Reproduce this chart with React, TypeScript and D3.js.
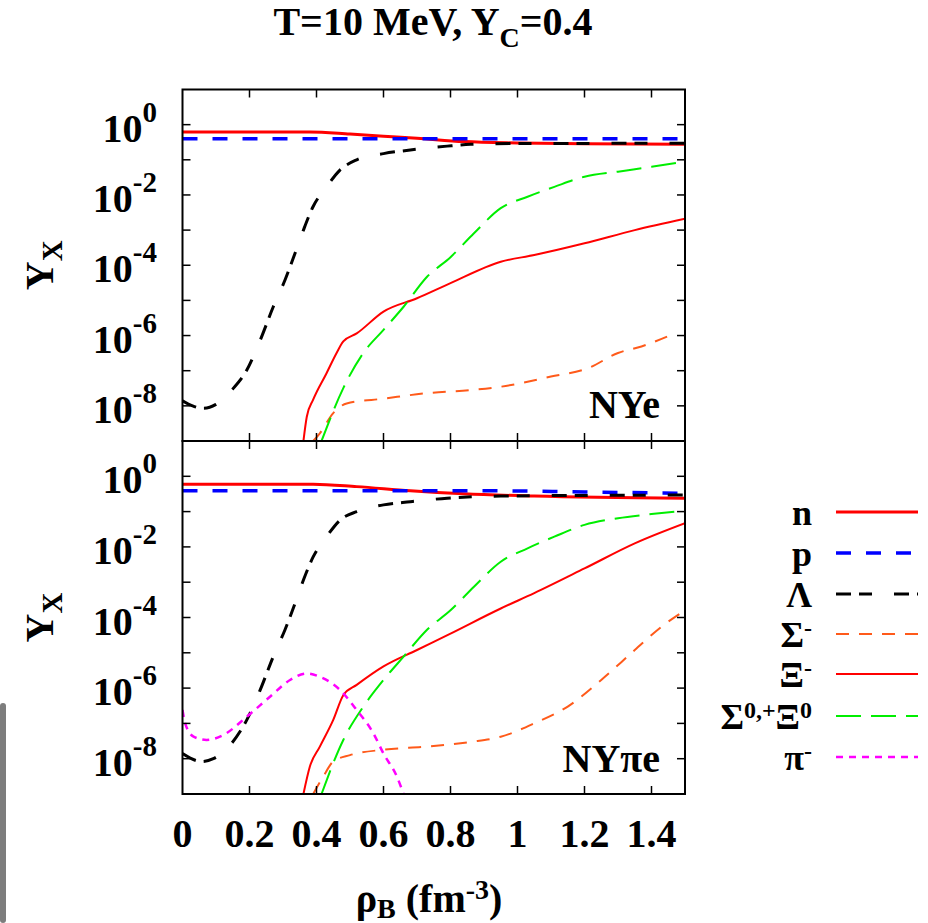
import React from 'react';
import * as d3 from 'd3';

// ---------- data ----------
const xTicks = [0.2, 0.4, 0.6, 0.8, 1.0, 1.2, 1.4];
const xTickLabelValues = [0, 0.2, 0.4, 0.6, 0.8, 1.0, 1.2, 1.4];
const xTickLabels = ['0', '0.2', '0.4', '0.6', '0.8', '1', '1.2', '1.4'];
const yLabelExps = [0, -2, -4, -6, -8];
const yTickExps = [0, -1, -2, -3, -4, -5, -6, -7, -8];

// Top panel (NYe): [rho_B, Y_X]
const nTop: [number, number][] = [[0, 0.62], [0.38, 0.62], [0.5, 0.54], [0.6, 0.47], [0.7, 0.41], [0.84, 0.33], [1.0, 0.3], [1.2, 0.285], [1.5, 0.275]];
const pTop: [number, number][] = [[0, 0.4], [0.5, 0.4], [1.0, 0.4], [1.5, 0.4]];
const lamTop: [number, number][] = [[0, 1.4e-8], [0.03, 1.0e-8], [0.063, 8.5e-9], [0.1, 1.1e-8], [0.147, 2.8e-8], [0.192, 1.05e-7], [0.232, 7.4e-7], [0.271, 6.6e-6], [0.306, 3.8e-5], [0.336, 2.2e-4], [0.361, 1.0e-3], [0.39, 4.7e-3], [0.43, 0.017], [0.47, 0.051], [0.52, 0.1], [0.6, 0.15], [0.68, 0.19], [0.79, 0.245], [0.86, 0.275], [1.0, 0.29], [1.5, 0.295]];
const sigmTop: [number, number][] = [[0.39, 1e-9], [0.41, 1.66e-9], [0.45, 6.2e-9], [0.49, 1.17e-8], [0.6, 1.6e-8], [0.73, 2.3e-8], [0.86, 2.8e-8], [0.95, 3.5e-8], [1.1, 6.8e-8], [1.21, 1.17e-7], [1.3, 3.2e-7], [1.37, 4.9e-7], [1.46, 1.05e-6]];
const ximTop: [number, number][] = [[0.361, 1e-9], [0.371, 4.9e-9], [0.39, 1.5e-8], [0.43, 8.5e-8], [0.46, 3.2e-7], [0.48, 6.8e-7], [0.52, 1.15e-6], [0.6, 4.8e-6], [0.7, 1.15e-5], [0.8, 3.1e-5], [0.95, 1.26e-4], [1.05, 1.95e-4], [1.2, 4.2e-4], [1.35, 1.0e-3], [1.5, 2.1e-3]];
const sig0Top: [number, number][] = [[0.415, 1e-9], [0.48, 3.2e-8], [0.54, 3.2e-7], [0.6, 1.45e-6], [0.66, 6.6e-6], [0.73, 4.7e-5], [0.8, 1.7e-4], [0.87, 8.1e-4], [0.95, 4.2e-3], [1.03, 8.9e-3], [1.11, 0.017], [1.2, 0.033], [1.3, 0.046], [1.4, 0.063], [1.5, 0.089]];

// Bottom panel (NYpie): [rho_B, Y_X]
const nBot: [number, number][] = [[0, 0.6], [0.39, 0.6], [0.52, 0.51], [0.68, 0.39], [0.84, 0.32], [1.05, 0.275], [1.5, 0.24]];
const pBot: [number, number][] = [[0, 0.39], [0.5, 0.39], [0.9, 0.39], [1.2, 0.36], [1.5, 0.33]];
const lamBot: [number, number][] = [[0, 1.4e-8], [0.058, 8.3e-9], [0.092, 1.0e-8], [0.147, 2.75e-8], [0.192, 1.26e-7], [0.232, 8.9e-7], [0.271, 7.8e-6], [0.306, 4.5e-5], [0.336, 2.5e-4], [0.361, 1.15e-3], [0.39, 5.2e-3], [0.43, 0.0195], [0.47, 0.057], [0.52, 0.1], [0.6, 0.155], [0.68, 0.19], [0.79, 0.24], [0.95, 0.275], [1.5, 0.295]];
const sigmBot: [number, number][] = [[0.39, 1e-9], [0.42, 3.1e-9], [0.45, 8.3e-9], [0.5, 1.26e-8], [0.6, 1.8e-8], [0.73, 2.2e-8], [0.86, 3.0e-8], [0.95, 4.2e-8], [1.05, 1.0e-7], [1.15, 3.0e-7], [1.25, 1.7e-6], [1.35, 1.2e-5], [1.43, 5.5e-5], [1.5, 1.6e-4]];
const ximBot: [number, number][] = [[0.361, 1e-9], [0.38, 5.9e-9], [0.41, 2.2e-8], [0.45, 1.26e-7], [0.48, 6.3e-7], [0.52, 1.23e-6], [0.6, 4.1e-6], [0.7, 1.2e-5], [0.8, 3.5e-5], [0.95, 1.8e-4], [1.05, 4.9e-4], [1.2, 2.45e-3], [1.35, 0.0126], [1.5, 0.047]];
const sig0Bot: [number, number][] = [[0.415, 1e-9], [0.48, 3.4e-8], [0.54, 3.0e-7], [0.6, 1.7e-6], [0.66, 7.8e-6], [0.73, 4.5e-5], [0.8, 1.6e-4], [0.87, 7.4e-4], [0.95, 3.8e-3], [1.03, 9.1e-3], [1.11, 0.0195], [1.2, 0.042], [1.3, 0.065], [1.4, 0.085], [1.5, 0.107]];
const piBot: [number, number][] = [[0, 2.4e-7], [0.008, 1.0e-7], [0.033, 4.2e-8], [0.072, 3.4e-8], [0.122, 4.7e-8], [0.192, 1.55e-7], [0.262, 5.8e-7], [0.321, 1.7e-6], [0.371, 2.6e-6], [0.41, 2.1e-6], [0.47, 8.9e-7], [0.52, 2.4e-7], [0.57, 5.2e-8], [0.6, 1.4e-8], [0.64, 3.1e-9], [0.66, 1e-9]];

const seriesKeys = ['n', 'p', 'lam', 'sigm', 'xim', 'sig0', 'pi'];

// ---------- styles ----------
const styles: Record<string, { color: string; width: number; dash: string | null }> = {
  n: { color: '#ff0000', width: 3, dash: null },
  p: { color: '#0000ff', width: 3.5, dash: '15,15' },
  lam: { color: '#000000', width: 3, dash: '15,8,13,22' },
  sigm: { color: '#ff5a1a', width: 2, dash: '13,10' },
  xim: { color: '#ff0000', width: 2, dash: null },
  sig0: { color: '#00ee00', width: 2, dash: '25,10' },
  pi: { color: '#ff00ff', width: 2.5, dash: '7,6' },
};

const FONT = "'Liberation Serif', 'Times New Roman', serif";

const X0 = 182.5, X1 = 685;
const panels = [
  { id: 'top', top: 89.5, bottom: 441, label: 'NYe', series: { n: nTop, p: pTop, lam: lamTop, sigm: sigmTop, xim: ximTop, sig0: sig0Top } as Record<string, [number, number][]> },
  { id: 'bot', top: 441, bottom: 794, label: 'NY\u03c0e', series: { n: nBot, p: pBot, lam: lamBot, sigm: sigmBot, xim: ximBot, sig0: sig0Bot, pi: piBot } as Record<string, [number, number][]> },
];

const legendItems = [
  { key: 'n', y: 512 },
  { key: 'p', y: 553 },
  { key: 'lam', y: 594 },
  { key: 'sigm', y: 634 },
  { key: 'xim', y: 674 },
  { key: 'sig0', y: 716 },
  { key: 'pi', y: 757 },
];

function LegendLabel({ k, y }: { k: string; y: number }) {
  const common = { x: 812, y: y + 13, textAnchor: 'end' as const, fontSize: 36, fontWeight: 'bold', fontFamily: FONT, fill: '#000' };
  const sup = (s: string) => <tspan dy={-11} fontSize={24}>{s}</tspan>;
  switch (k) {
    case 'n': return <text {...common}>n</text>;
    case 'p': return <text {...common}>p</text>;
    case 'lam': return <text {...common}>Λ</text>;
    case 'sigm': return <text {...common}>Σ{sup('-')}</text>;
    case 'xim': return <text {...common}>Ξ{sup('-')}</text>;
    case 'sig0': return <text {...common}>Σ{sup('0,+')}<tspan dy={11} fontSize={36}>Ξ</tspan><tspan dy={-11} fontSize={24}>0</tspan></text>;
    case 'pi': return <text {...common}>π{sup('-')}</text>;
  }
  return null;
}

export default function App() {
  const x = d3.scaleLinear().domain([0, 1.5]).range([X0, X1]);

  return (
    <svg width={928} height={923} viewBox="0 0 928 923" style={{ position: 'absolute', left: 0, top: 0, background: '#fff' }}>
      <rect x={0} y={0} width={928} height={923} fill="#fff" />
      <defs>
        {panels.map(p => (
          <clipPath id={`clip-${p.id}`} key={p.id}>
            <rect x={X0} y={p.top} width={X1 - X0} height={p.bottom - p.top} />
          </clipPath>
        ))}
      </defs>

      {/* title */}
      <text x={433} y={35} textAnchor="middle" fontSize={40} fontWeight="bold" fontFamily={FONT}>
        T=10 MeV, Y<tspan dy={12} fontSize={28}>C</tspan><tspan dy={-12} fontSize={40}>=0.4</tspan>
      </text>

      {panels.map(p => {
        const y = d3.scaleLog().domain([1e-9, 10]).range([p.bottom, p.top]);
        const line = d3.line<[number, number]>().x(d => x(d[0])).y(d => y(d[1])).curve(d3.curveMonotoneX);
        const midY = (p.top + p.bottom) / 2;
        return (
          <g key={p.id}>
            <g clipPath={`url(#clip-${p.id})`}>
              {seriesKeys.filter(k => p.series[k]).map(k => (
                <path key={k} d={line(p.series[k]) || ''} fill="none" stroke={styles[k].color}
                  strokeWidth={styles[k].width} strokeDasharray={styles[k].dash || undefined} strokeLinejoin="round" />
              ))}
            </g>
            {/* y ticks */}
            {yTickExps.map(e => {
              const ty = y(Math.pow(10, e));
              return (
                <g key={e}>
                  <line x1={X0} x2={X0 + 8} y1={ty} y2={ty} stroke="#000" strokeWidth={1.5} />
                  <line x1={X1} x2={X1 - 8} y1={ty} y2={ty} stroke="#000" strokeWidth={1.5} />
                </g>
              );
            })}
            {/* x ticks */}
            {xTicks.map(v => (
              <g key={v}>
                <line x1={x(v)} x2={x(v)} y1={p.bottom} y2={p.bottom - 8} stroke="#000" strokeWidth={1.5} />
                <line x1={x(v)} x2={x(v)} y1={p.top} y2={p.top + 8} stroke="#000" strokeWidth={1.5} />
              </g>
            ))}
            {/* y labels */}
            {yLabelExps.map(e => {
              const ty = y(Math.pow(10, e));
              return (
                <text key={e} x={157} y={ty + 17} textAnchor="end" fontSize={40} fontWeight="bold" fontFamily={FONT}>
                  10<tspan dy={-20} fontSize={29}>{String(e)}</tspan>
                </text>
              );
            })}
            <rect x={X0} y={p.top} width={X1 - X0} height={p.bottom - p.top} fill="none" stroke="#000" strokeWidth={2} />
            <text transform={`translate(53,${midY}) rotate(-90)`} textAnchor="middle" fontSize={40} fontWeight="bold" fontFamily={FONT}>
              Y<tspan dy={9} fontSize={29}>X</tspan>
            </text>
            <text x={660} y={p.id === 'top' ? 418 : 772} textAnchor="end" fontSize={40} fontWeight="bold" fontFamily={FONT}>{p.label}</text>
          </g>
        );
      })}

      {/* x tick labels */}
      {xTickLabelValues.map((v, i) => (
        <text key={v} x={x(v)} y={847} textAnchor="middle" fontSize={40} fontWeight="bold" fontFamily={FONT}>{xTickLabels[i]}</text>
      ))}

      {/* x axis label */}
      <text x={429} y={912} textAnchor="middle" fontSize={40} fontWeight="bold" fontFamily={FONT}>
        ρ<tspan dy={6} fontSize={28}>B</tspan><tspan dy={-6} fontSize={40}> (fm</tspan><tspan dy={-13} fontSize={28}>-3</tspan><tspan dy={13} fontSize={40}>)</tspan>
      </text>

      {/* legend */}
      {legendItems.map(it => (
        <g key={it.key}>
          <LegendLabel k={it.key} y={it.y} />
          <line x1={836} x2={918} y1={it.y} y2={it.y} stroke={styles[it.key].color} strokeWidth={styles[it.key].width}
            strokeDasharray={styles[it.key].dash || undefined} />
        </g>
      ))}

      {/* left gray bar artifact */}
      <rect x={0} y={703} width={6} height={220} rx={3} fill="#7d7d7d" />
    </svg>
  );
}
